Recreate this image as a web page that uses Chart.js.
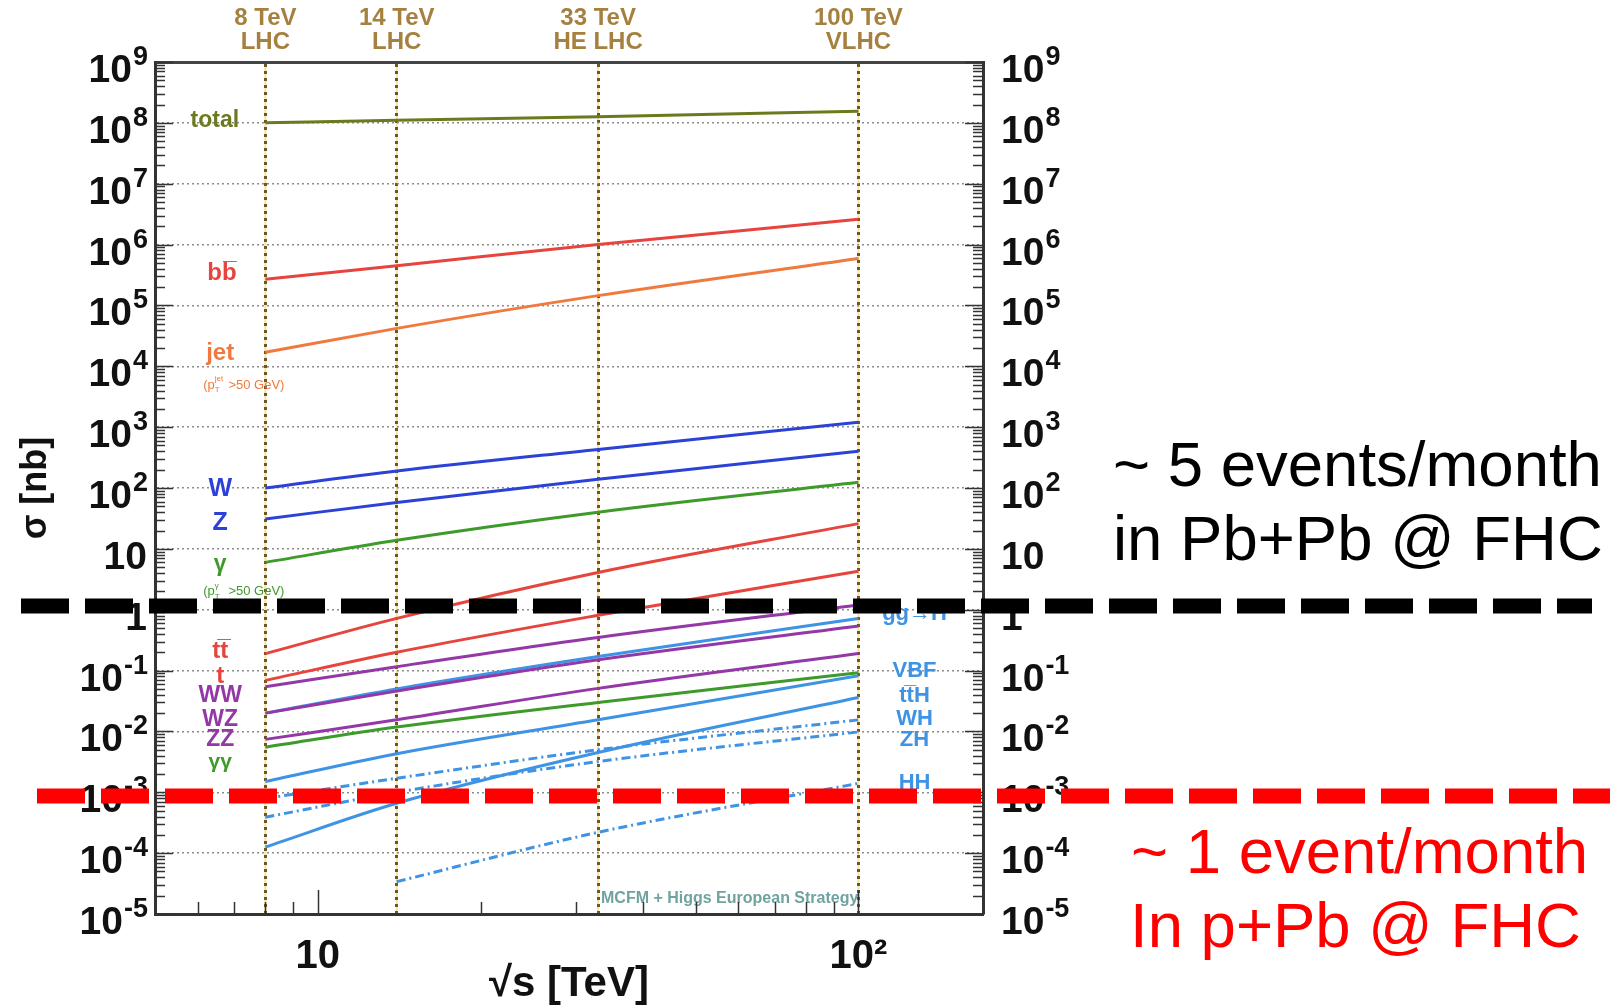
<!DOCTYPE html>
<html>
<head>
<meta charset="utf-8">
<script src="https://cdn.jsdelivr.net/npm/chart.js@4.4.1/dist/chart.umd.min.js"></script>
<style>
html,body{margin:0;padding:0;background:#fff;}
#wrap{width:1610px;height:1005px;}
</style>
</head>
<body>
<div id="wrap"><canvas id="xsec" width="1610" height="1005"></canvas></div>
<script>
var energies = [8, 14, 33, 100];

// cross sections [nb], one array per process
var sigTotal = [1.0e8, 1.1e8, 1.26e8, 1.55e8];
var sigBB    = [2.7e5, 4.5e5, 1.0e6, 2.6e6];
var sigJet   = [1.7e4, 4.2e4, 1.45e5, 5.9e5];
var sigW     = [100, 190, 430, 1200];
var sigZ     = [31, 58, 139, 400];
var sigGamma = [6.0, 13.8, 40, 124];
var sigTT    = [0.19, 0.72, 4.1, 26];
var sigT     = [0.069, 0.20, 0.81, 4.3];
var sigWW    = [0.054, 0.116, 0.35, 1.2];
var sigWZ    = [0.020, 0.046, 0.15, 0.54];
var sigZZ    = [0.0074, 0.0155, 0.051, 0.19];
var sigGG    = [0.0055, 0.0118, 0.030, 0.092];
var sigggH   = [0.020, 0.050, 0.17, 0.72];
var sigVBF   = [0.0015, 0.0043, 0.0155, 0.082];
var sigttH   = [1.26e-4, 6.6e-4, 0.0045, 0.036];
var sigWH    = [7.9e-4, 0.0017, 0.0050, 0.0155];
var sigZH    = [3.9e-4, 0.0010, 0.0032, 0.0098];
var sigHH    = [null, 3.4e-5, 2.2e-4, 1.4e-3];

// machines marked on top
var machineEnergies = [8, 14, 33, 100];
var machineNames = [["8 TeV", "LHC"], ["14 TeV", "LHC"], ["33 TeV", "HE LHC"], ["100 TeV", "VLHC"]];

// axis ticks
var yTickValues = [];
for (var e = -5; e <= 9; e++) {
  for (var m = 1; m <= 9; m++) {
    if (e === 9 && m > 1) break;
    yTickValues.push(m * Math.pow(10, e));
  }
}
var xTickValues = [6, 7, 8, 9, 10, 20, 30, 40, 50, 60, 70, 80, 90, 100];

// event-rate thresholds [nb]: ~5 events/month Pb+Pb, ~1 event/month p+Pb
var monthlyLimits = [1.15, 8.7e-4];

function isDecade(v) {
  var l = Math.log10(v);
  return Math.abs(l - Math.round(l)) < 1e-9;
}
function powLabel(v) {
  if (!isDecade(v)) return '';
  var p = Math.round(Math.log10(v));
  if (p === 0) return '1';
  if (p === 1) return '10';
  if (p === 2) return '10\u00B2';
  return '10^' + p;
}

var RED = '#e6443c', ORANGE = '#f07a3e', BLUE = '#2c42d6', GREEN = '#3f9a2c',
    PURPLE = '#9338a6', LBLUE = '#3f93e4', OLIVE = '#6b7a1f';

function series(vals) {
  var pts = [];
  for (var i = 0; i < energies.length; i++) {
    if (vals[i] != null) pts.push({x: energies[i], y: vals[i]});
  }
  return pts;
}
function line(name, vals, color, dash) {
  return {
    label: name, data: series(vals), borderColor: color, backgroundColor: color,
    borderWidth: 3, pointRadius: 0, borderDash: dash || [], cubicInterpolationMode: 'monotone'
  };
}
var dashDot = [9, 4, 2, 4];

var datasets = [
  line('total', sigTotal, OLIVE),
  line('bb', sigBB, RED),
  line('jet', sigJet, ORANGE),
  line('W', sigW, BLUE),
  line('Z', sigZ, BLUE),
  line('gamma', sigGamma, GREEN),
  line('tt', sigTT, RED),
  line('t', sigT, RED),
  line('WW', sigWW, PURPLE),
  line('WZ', sigWZ, PURPLE),
  line('ZZ', sigZZ, PURPLE),
  line('gamgam', sigGG, GREEN),
  line('ggH', sigggH, LBLUE),
  line('VBF', sigVBF, LBLUE),
  line('ttH', sigttH, LBLUE),
  line('WH', sigWH, LBLUE, dashDot),
  line('ZH', sigZH, LBLUE, dashDot),
  line('HH', sigHH, LBLUE, dashDot)
];

// curve names, placed in data coordinates
var curveLabels = [
  {t: 'total', x: 6.45, y: 1.1e8, c: OLIVE, s: 23},
  {t: 'bb\u0305', x: 6.65, y: 3.3e5, c: RED, s: 24},
  {t: 'jet', x: 6.6, y: 1.6e4, c: ORANGE, s: 24},
  {t: 'W', x: 6.6, y: 95, c: BLUE, s: 25},
  {t: 'Z', x: 6.6, y: 26, c: BLUE, s: 25},
  {t: '\u03B3', x: 6.6, y: 5.4, c: GREEN, s: 23},
  {t: 'tt\u0305', x: 6.6, y: 0.21, c: RED, s: 24},
  {t: 't', x: 6.6, y: 0.081, c: RED, s: 24},
  {t: 'WW', x: 6.6, y: 0.038, c: PURPLE, s: 23},
  {t: 'WZ', x: 6.6, y: 0.0159, c: PURPLE, s: 23},
  {t: 'ZZ', x: 6.6, y: 0.0072, c: PURPLE, s: 23},
  {t: '\u03B3\u03B3', x: 6.6, y: 0.0031, c: GREEN, s: 21},
  {t: 'gg\u2192H', x: 127, y: 0.84, c: LBLUE, s: 22},
  {t: 'VBF', x: 127, y: 0.10, c: LBLUE, s: 22},
  {t: 'tt\u0305H', x: 127, y: 0.038, c: LBLUE, s: 22},
  {t: 'WH', x: 127, y: 0.0159, c: LBLUE, s: 22},
  {t: 'ZH', x: 127, y: 0.0072, c: LBLUE, s: 22},
  {t: 'HH', x: 127, y: 0.00142, c: LBLUE, s: 22},
  {t: 'MCFM + Higgs European Strategy', x: 57.8, y: 1.76e-5, c: '#6fa3a0', s: 16}
];
// kinematic cuts under jet and gamma
var cutLabels = [
  {sup: 'jet', x: 7.3, y: 4.9e3, c: ORANGE},
  {sup: '\u03B3', x: 7.3, y: 2.0, c: GREEN}
];

var FONT = '"Liberation Sans", Arial, "DejaVu Sans", sans-serif';

// y tick labels with real superscripts, at the decade ticks of each y scale
function drawPowerLabels(ctx, scale, alignRight, x) {
  scale.ticks.forEach(function(t) {
    if (!t.major) return;
    var p = Math.round(Math.log10(t.value));
    var base = p === 0 ? '1' : '10';
    var ex = (p === 0 || p === 1) ? '' : String(p);
    var by = Math.round(scale.getPixelForValue(t.value)) + 20;
    ctx.font = 'bold 39px ' + FONT;
    var wb = ctx.measureText(base).width;
    ctx.font = 'bold 27px ' + FONT;
    var we = ex ? ctx.measureText(ex).width : 0;
    var x0 = alignRight ? x - wb - we : x;
    ctx.font = 'bold 39px ' + FONT;
    ctx.fillText(base, x0, by);
    if (ex) {
      ctx.font = 'bold 27px ' + FONT;
      ctx.fillText(ex, x0 + wb + 1, by - 17);
    }
  });
}

var decor = {
  id: 'decor',
  beforeDraw: function(chart) {
    // faint gold line under the dotted machine lines
    var ctx = chart.ctx, a = chart.chartArea, xs = chart.scales.x;
    ctx.save();
    ctx.strokeStyle = 'rgba(238,205,100,0.6)';
    ctx.lineWidth = 2;
    machineEnergies.forEach(function(v) {
      var p = xs.getPixelForValue(v);
      ctx.beginPath(); ctx.moveTo(p, a.top); ctx.lineTo(p, a.bottom); ctx.stroke();
    });
    ctx.restore();
  },
  afterDatasetsDraw: function(chart) {
    var ctx = chart.ctx, xs = chart.scales.x, ys = chart.scales.y;
    ctx.save();
    ctx.textAlign = 'center';
    ctx.textBaseline = 'middle';
    curveLabels.forEach(function(l) {
      ctx.font = 'bold ' + l.s + 'px ' + FONT;
      ctx.fillStyle = l.c;
      ctx.fillText(l.t, xs.getPixelForValue(l.x), ys.getPixelForValue(l.y));
    });
    cutLabels.forEach(function(l) {
      var px = xs.getPixelForValue(l.x), py = ys.getPixelForValue(l.y);
      ctx.fillStyle = l.c;
      ctx.textAlign = 'left';
      ctx.font = '13px ' + FONT;
      var w1 = ctx.measureText('(p').width;
      var w2 = ctx.measureText(' >50 GeV)').width;
      var x0 = px - (w1 + 10 + w2) / 2;
      ctx.fillText('(p', x0, py);
      ctx.font = '8px ' + FONT;
      ctx.fillText(l.sup, x0 + w1, py - 6);
      ctx.fillText('T', x0 + w1, py + 5);
      ctx.font = '13px ' + FONT;
      ctx.fillText(' >50 GeV)', x0 + w1 + 10, py);
    });
    ctx.restore();
  },
  afterDraw: function(chart) {
    var ctx = chart.ctx, a = chart.chartArea;
    var ys = chart.scales.y, xs = chart.scales.x;
    ctx.save();
    // inward tick marks
    ctx.strokeStyle = '#333';
    ctx.lineWidth = 1.5;
    ys.ticks.forEach(function(t) {
      var p = Math.round(ys.getPixelForValue(t.value)) + 0.5;
      var len = t.major ? 18 : 10;
      ctx.beginPath();
      ctx.moveTo(a.left, p); ctx.lineTo(a.left + len, p);
      ctx.moveTo(a.right, p); ctx.lineTo(a.right - len, p);
      ctx.stroke();
    });
    xs.ticks.forEach(function(t) {
      var p = Math.round(xs.getPixelForValue(t.value)) + 0.5;
      var len = t.major ? 24 : 12;
      ctx.beginPath();
      ctx.moveTo(p, a.bottom); ctx.lineTo(p, a.bottom - len);
      ctx.stroke();
    });

    // y tick labels
    ctx.fillStyle = '#111';
    ctx.textBaseline = 'alphabetic';
    ctx.textAlign = 'left';
    drawPowerLabels(ctx, ys, true, a.left - 8);
    drawPowerLabels(ctx, chart.scales.y2, false, a.right + 18);

    // event-rate lines
    var lineCols = ['#000', '#ff0000'];
    var spans = [[21, 1592], [37, 1610]];
    ctx.lineWidth = 15;
    ctx.setLineDash([48, 16]);
    monthlyLimits.forEach(function(v, i) {
      var py = ys.getPixelForValue(v);
      ctx.strokeStyle = lineCols[i];
      ctx.beginPath();
      ctx.moveTo(spans[i][0], py); ctx.lineTo(spans[i][1], py);
      ctx.stroke();
    });
    ctx.setLineDash([]);

    ctx.font = '63.5px ' + FONT;
    ctx.textAlign = 'left';
    ctx.textBaseline = 'alphabetic';
    ctx.fillStyle = '#000';
    ctx.fillText('~ 5 events/month', 1113, 486);
    ctx.fillText('in Pb+Pb @ FHC', 1113, 560);
    ctx.fillStyle = '#ff0000';
    ctx.fillText('~ 1 event/month', 1131, 873);
    ctx.fillText('In p+Pb @ FHC', 1130, 947);
    ctx.restore();
  }
};

Chart.defaults.font.family = FONT;
Chart.defaults.color = '#111';

function yAxis(pos, width) {
  return {
    type: 'logarithmic', position: pos, min: 1e-5, max: 1e9,
    afterBuildTicks: function(s) {
      s.ticks = yTickValues.map(function(v){ return {value: v, major: isDecade(v)}; });
    },
    afterFit: function(s) { s.width = width; },
    grid: {
      drawOnChartArea: pos === 'left', drawTicks: false, lineWidth: 1.5,
      color: function(c) { return c.tick && c.tick.major ? '#8c8c8c' : 'rgba(0,0,0,0)'; }
    },
    border: { display: true, color: '#333', width: 3, dash: [2, 3] },
    ticks: { display: false, autoSkip: false, callback: function(v) { return powLabel(v); } }
  };
}

new Chart(document.getElementById('xsec'), {
  type: 'line',
  data: { datasets: datasets },
  plugins: [decor],
  options: {
    responsive: false,
    animation: false,
    layout: { padding: 0 },
    plugins: { legend: { display: false }, tooltip: { enabled: false } },
    scales: {
      x: {
        type: 'logarithmic', position: 'bottom', min: 5, max: 170,
        afterBuildTicks: function(s) {
          s.ticks = xTickValues.map(function(v){ return {value: v, major: isDecade(v)}; });
        },
        afterFit: function(s) { s.height = 91; },
        grid: { drawOnChartArea: false, drawTicks: false },
        border: { display: true, color: '#333', width: 3 },
        ticks: {
          autoSkip: false, maxRotation: 0, padding: 19,
          font: { size: 40, weight: 'bold' }, color: '#111',
          callback: function(v) { return powLabel(v); }
        },
        title: {
          display: true, text: '\u221As [TeV]', color: '#111',
          font: { size: 42, weight: 'bold', lineHeight: 1.0 }, padding: { top: 0, bottom: 0 }
        }
      },
      x2: {
        type: 'logarithmic', position: 'top', min: 5, max: 170,
        afterBuildTicks: function(s) {
          s.ticks = machineEnergies.map(function(v){ return {value: v}; });
        },
        afterFit: function(s) { s.height = 62; },
        grid: { drawTicks: false, color: '#6e5524', lineWidth: 3 },
        border: { display: true, color: '#444', width: 3, dash: [3, 4] },
        ticks: {
          autoSkip: false, maxRotation: 0, padding: 8, color: '#a5803f',
          font: { size: 24, weight: 'bold', lineHeight: 1.0 },
          callback: function(v, i) { return machineNames[i]; }
        }
      },
      y: Object.assign(yAxis('left', 155), {
        title: {
          display: true, text: '\u03C3 [nb]', color: '#111',
          font: { size: 36, weight: 'bold' }, padding: { top: 14, bottom: 0 }
        }
      }),
      y2: yAxis('right', 627)
    }
  }
});
</script>
</body>
</html>
